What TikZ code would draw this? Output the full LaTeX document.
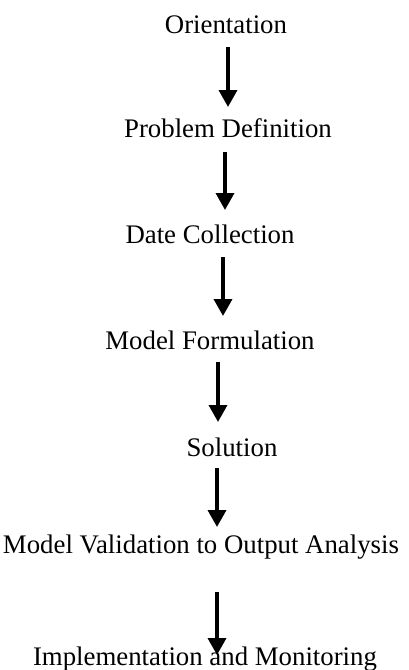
\documentclass[tikz,border=0pt]{standalone}
\usepackage{fontspec}
\setmainfont{Liberation Serif}
\usetikzlibrary{arrows.meta}
\tikzset{
  stage/.style={anchor=base, inner sep=0pt, font=\fontsize{13.4}{15}\selectfont},
  flow/.style={line width=1.75pt, -{Triangle[width=9pt,length=8.5pt]}}
}
\begin{document}
\begin{tikzpicture}[x=0.5pt, y=-0.5pt]
    \useasboundingbox (0,0) rectangle (408,670);
    % stages
    \node[stage] (orient) at (226,33) {Orientation};
    \node[stage] (probdef) at (228,137) {Problem Definition};
    \node[stage] (datecoll) at (210,243) {Date Collection};
    \node[stage] (modform) at (210,349) {Model Formulation};
    \node[stage] (solution) at (232,456) {Solution};
    \node[stage] (modval) at (201,553) {Model Validation to Output Analysis};
    \node[stage] (impl) at (205,665) {Implementation and Monitoring};
    % arrow ends
    \coordinate (a1) at (228,47);  \coordinate (b1) at (228,107);
    \coordinate (a2) at (225,152); \coordinate (b2) at (225,210);
    \coordinate (a3) at (223,257); \coordinate (b3) at (223,316);
    \coordinate (a4) at (218,362); \coordinate (b4) at (218,422);
    \coordinate (a5) at (217,468); \coordinate (b5) at (217,527);
    \coordinate (a6) at (217,592); \coordinate (b6) at (217,655);
    \foreach \i in {1,...,6}
        \draw[flow] (a\i) -- (b\i);
\end{tikzpicture}
\end{document}
